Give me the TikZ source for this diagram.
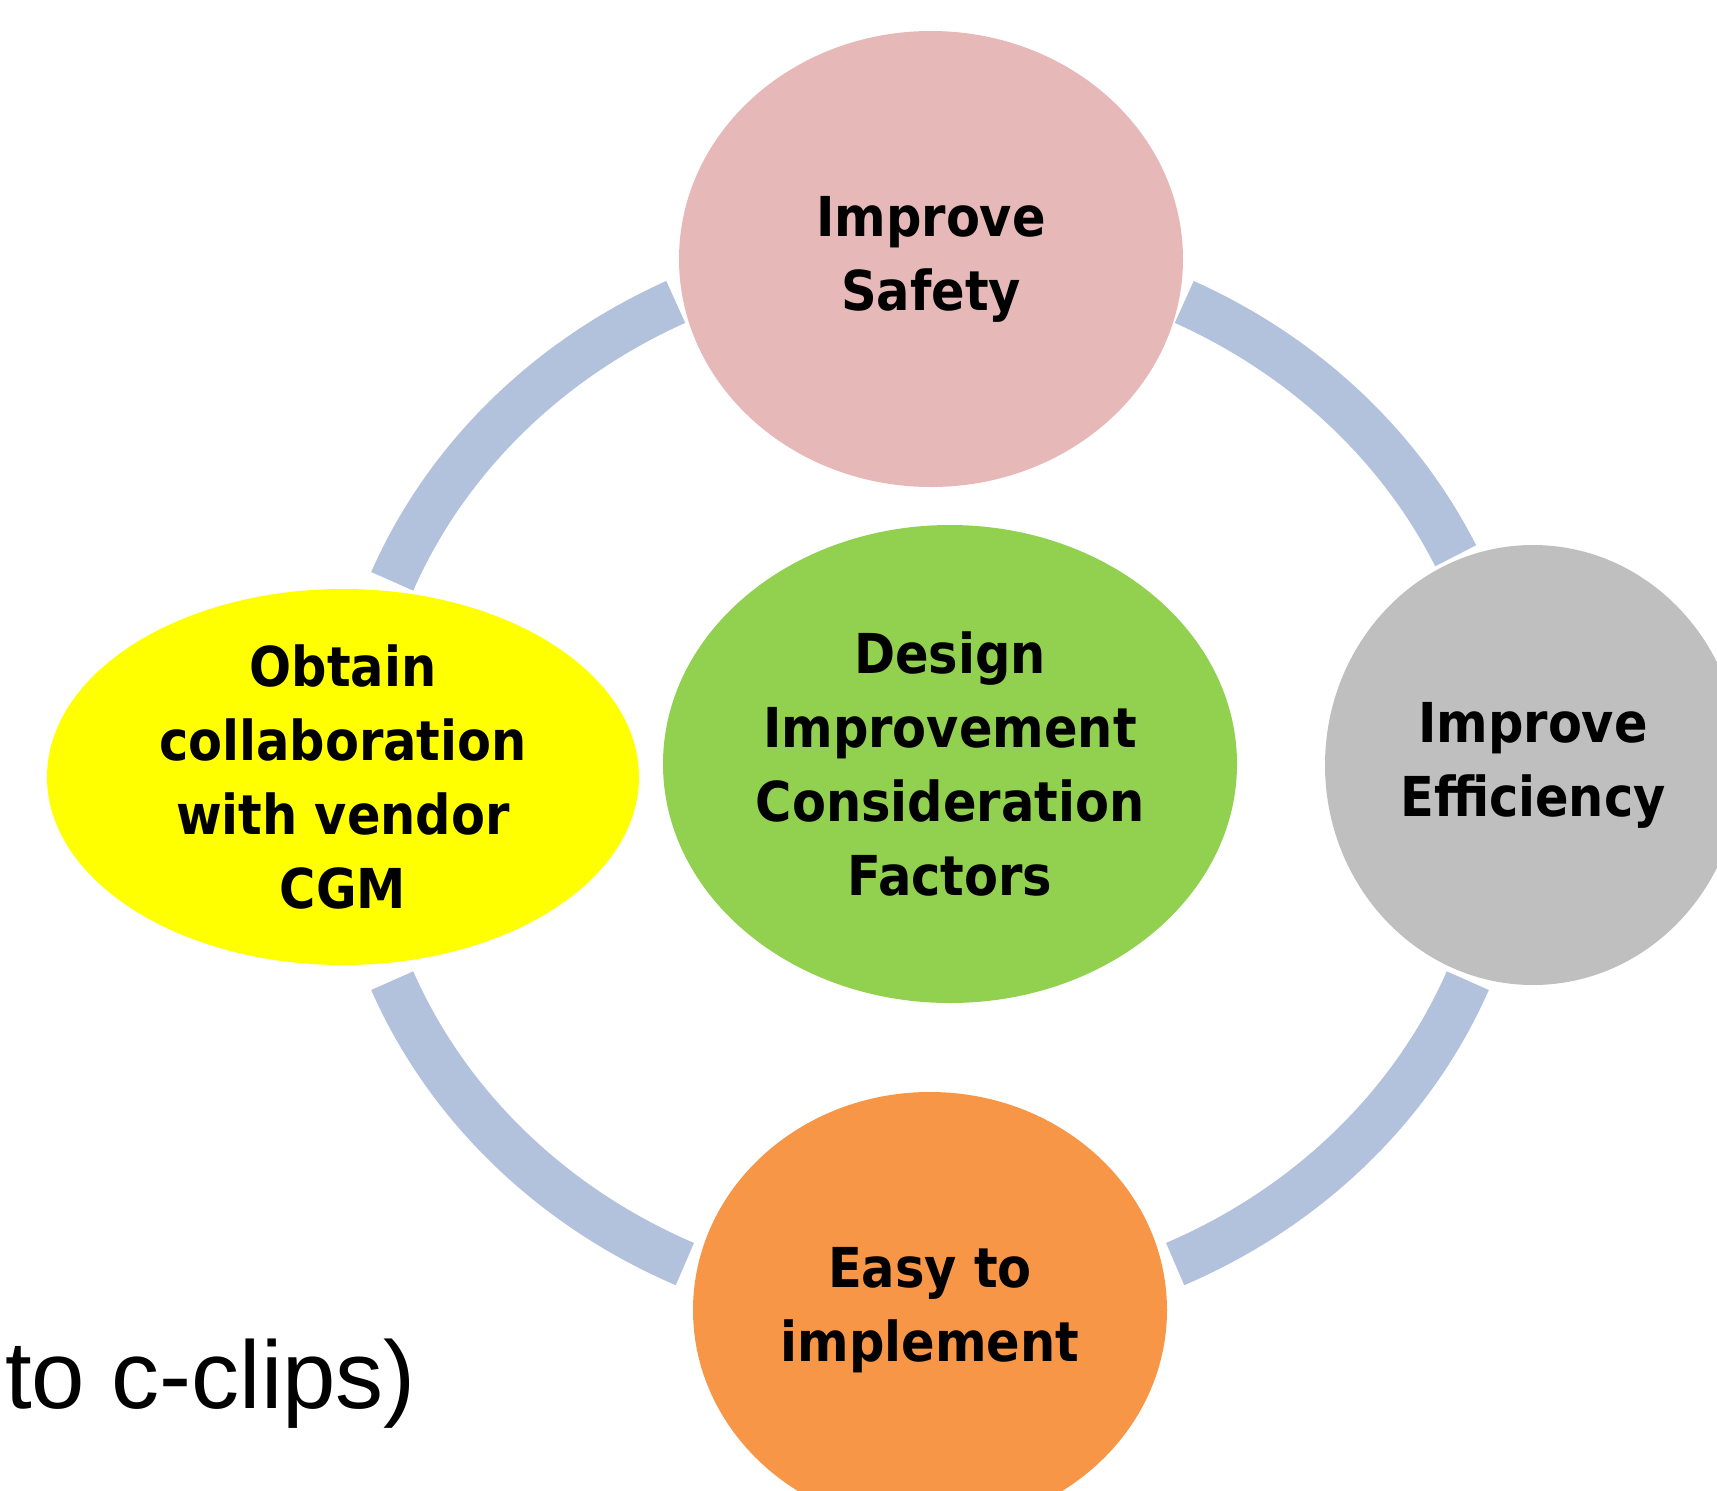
\documentclass[tikz,border=0pt]{standalone}
\usepackage{xcolor}
\usepackage{fontspec}
\setmainfont{DejaVu Sans Condensed}
\newfontfamily\slidefont{Liberation Sans}
\usepackage{tikz}
\usetikzlibrary{shapes.geometric}
\definecolor{factor1}{RGB}{230,184,183}
\definecolor{factor2}{RGB}{146,208,80}
\definecolor{factor3}{RGB}{255,255,0}
\definecolor{factor4}{RGB}{191,191,191}
\definecolor{factor5}{RGB}{247,150,70}
\definecolor{ringblue}{RGB}{178,194,220}
\tikzset{
  bubble/.style={ellipse, inner sep=0pt, draw=none},
  caption/.style={align=center, inner sep=0pt, text=black,
    font=\fontsize{55}{74}\selectfont\bfseries},
  ring/.style={line width=46pt, draw=ringblue},
}

\begin{document}
\begin{tikzpicture}[x=1pt, y=-1pt]
\useasboundingbox (0,0) rectangle (1717,1491);
\coordinate (hub) at (930,781);
% ring pieces between the bubbles
\foreach \from/\to in {202/244, 296/335, 22/65, 115/158}
  \draw[ring] ([shift={(\from:580 and 533)}]hub)
    arc[start angle=\from, end angle=\to, x radius=580, y radius=533];

\node[bubble, fill=factor1, minimum width=504pt, minimum height=456pt,
  label={[caption]center:Improve\\Safety}] (safety) at (931,259) {};
\node[bubble, fill=factor2, minimum width=574pt, minimum height=478pt,
  label={[caption]center:Design\\Improvement\\Consideration\\Factors}] (design) at (950,764) {};
\node[bubble, fill=factor3, minimum width=592pt, minimum height=376pt,
  label={[caption]center:Obtain\\collaboration\\with vendor\\CGM}] (vendor) at (343,777) {};
\node[bubble, fill=factor4, minimum width=416pt, minimum height=440pt,
  label={[caption]center:Improve\\Efficiency}] (efficiency) at (1533,765) {};
\node[bubble, fill=factor5, minimum width=474pt, minimum height=436pt,
  label={[caption]center:Easy to\\implement}] (easy) at (930,1310) {};

\node[anchor=base west, inner sep=0pt,
  font=\slidefont\fontsize{96}{96}\selectfont] (clips) at (5,1408) {to c-clips)};
\end{tikzpicture}
\end{document}
